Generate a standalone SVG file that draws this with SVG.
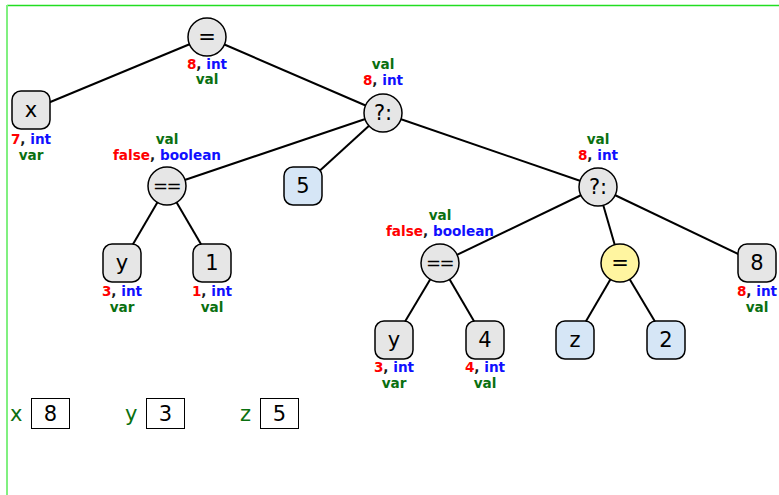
<svg xmlns="http://www.w3.org/2000/svg" width="779" height="495" viewBox="0 0 779 495">
<style>
.n{fill:#e6e6e6;stroke:#000;stroke-width:1.5}
.b{fill:#d6e6f6}
.yl{fill:#fff5a0}
.t{font-family:"DejaVu Sans",sans-serif;font-size:21px;text-anchor:middle;fill:#000}
.q{font-size:18px;letter-spacing:-1.5px}
.l{font-family:"DejaVu Sans",sans-serif;font-weight:bold;font-size:13.6px;text-anchor:middle;fill:#1a1a1a}
.r{fill:#ff0000}.u{fill:#1010ff}.g{fill:#0a7010}
.e line{stroke:#000;stroke-width:2}
.v{font-family:"DejaVu Sans",sans-serif;font-size:21px;fill:#0a7010}
.box{fill:#fff;stroke:#000;stroke-width:1}
</style>
<rect width="779" height="495" fill="#fff"/>
<line x1="7" y1="5.5" x2="779" y2="5.5" stroke="#22dd22" stroke-width="1.5"/>
<line x1="7" y1="5" x2="7" y2="495" stroke="#80f080" stroke-width="2"/>
<g class="e">
<line x1="207" y1="37" x2="31" y2="110"/>
<line x1="207" y1="37" x2="383" y2="113"/>
<line x1="383" y1="113" x2="167" y2="186"/>
<line x1="383" y1="113" x2="303" y2="186"/>
<line x1="383" y1="113" x2="598" y2="187"/>
<line x1="167" y1="186" x2="122" y2="263"/>
<line x1="167" y1="186" x2="212" y2="263"/>
<line x1="598" y1="187" x2="440" y2="263"/>
<line x1="598" y1="187" x2="620" y2="263"/>
<line x1="598" y1="187" x2="757" y2="263"/>
<line x1="440" y1="263" x2="394" y2="340"/>
<line x1="440" y1="263" x2="485" y2="340"/>
<line x1="620" y1="263" x2="575" y2="340"/>
<line x1="620" y1="263" x2="666" y2="340"/>
</g>
<g id="root"><circle class="n" cx="207" cy="37" r="19"/><text class="t" x="207" y="44">=</text>
<text class="l" x="207" y="69"><tspan class="r">8</tspan>, <tspan class="u">int</tspan></text><text class="l g" x="207" y="84">val</text></g>
<g id="x"><rect class="n" x="12" y="91" width="38" height="38" rx="9"/><text class="t" x="31" y="117">x</text>
<text class="l" x="31" y="144"><tspan class="r">7</tspan>, <tspan class="u">int</tspan></text><text class="l g" x="31" y="160">var</text></g>
<g id="cond1"><circle class="n" cx="383" cy="113" r="19"/><text class="t" x="383" y="120">?:</text>
<text class="l g" x="383" y="69">val</text><text class="l" x="383" y="85"><tspan class="r">8</tspan>, <tspan class="u">int</tspan></text></g>
<g id="eq1"><circle class="n" cx="167" cy="186" r="19"/><text class="t q" x="166.5" y="192">==</text>
<text class="l g" x="167" y="144">val</text><text class="l" x="167" y="160"><tspan class="r">false</tspan>, <tspan class="u">boolean</tspan></text></g>
<g id="five"><rect class="n b" x="284" y="167" width="38" height="38" rx="9"/><text class="t" x="303" y="193">5</text></g>
<g id="cond2"><circle class="n" cx="598" cy="187" r="19"/><text class="t" x="598" y="194">?:</text>
<text class="l g" x="598" y="144">val</text><text class="l" x="598" y="160"><tspan class="r">8</tspan>, <tspan class="u">int</tspan></text></g>
<g id="y1"><rect class="n" x="103" y="244" width="38" height="38" rx="9"/><text class="t" x="122" y="270">y</text>
<text class="l" x="122" y="296"><tspan class="r">3</tspan>, <tspan class="u">int</tspan></text><text class="l g" x="122" y="312">var</text></g>
<g id="one"><rect class="n" x="193" y="244" width="38" height="38" rx="9"/><text class="t" x="212" y="270">1</text>
<text class="l" x="212" y="296"><tspan class="r">1</tspan>, <tspan class="u">int</tspan></text><text class="l g" x="212" y="312">val</text></g>
<g id="eq2"><circle class="n" cx="440" cy="263" r="19"/><text class="t q" x="439.5" y="269">==</text>
<text class="l g" x="440" y="220">val</text><text class="l" x="440" y="236"><tspan class="r">false</tspan>, <tspan class="u">boolean</tspan></text></g>
<g id="assign"><circle class="n yl" cx="620" cy="263" r="19"/><text class="t" x="620" y="270">=</text></g>
<g id="eight"><rect class="n" x="738" y="244" width="38" height="38" rx="9"/><text class="t" x="757" y="270">8</text>
<text class="l" x="757" y="296"><tspan class="r">8</tspan>, <tspan class="u">int</tspan></text><text class="l g" x="757" y="312">val</text></g>
<g id="y2"><rect class="n" x="375" y="321" width="38" height="38" rx="9"/><text class="t" x="394" y="347">y</text>
<text class="l" x="394" y="372"><tspan class="r">3</tspan>, <tspan class="u">int</tspan></text><text class="l g" x="394" y="388">var</text></g>
<g id="four"><rect class="n" x="466" y="321" width="38" height="38" rx="9"/><text class="t" x="485" y="347">4</text>
<text class="l" x="485" y="372"><tspan class="r">4</tspan>, <tspan class="u">int</tspan></text><text class="l g" x="485" y="388">val</text></g>
<g id="z"><rect class="n b" x="556" y="321" width="38" height="38" rx="9"/><text class="t" x="575" y="347">z</text></g>
<g id="two"><rect class="n b" x="647" y="321" width="38" height="38" rx="9"/><text class="t" x="666" y="347">2</text></g>
<g id="vars">
<text class="v" x="10" y="421">x</text><rect class="box" x="31.5" y="398.5" width="38" height="30"/><text class="t" x="50.5" y="421">8</text>
<text class="v" x="125" y="421">y</text><rect class="box" x="146.5" y="398.5" width="38" height="30"/><text class="t" x="165.5" y="421">3</text>
<text class="v" x="240" y="421">z</text><rect class="box" x="260.5" y="398.5" width="38" height="30"/><text class="t" x="279.5" y="421">5</text>
</g>
</svg>
